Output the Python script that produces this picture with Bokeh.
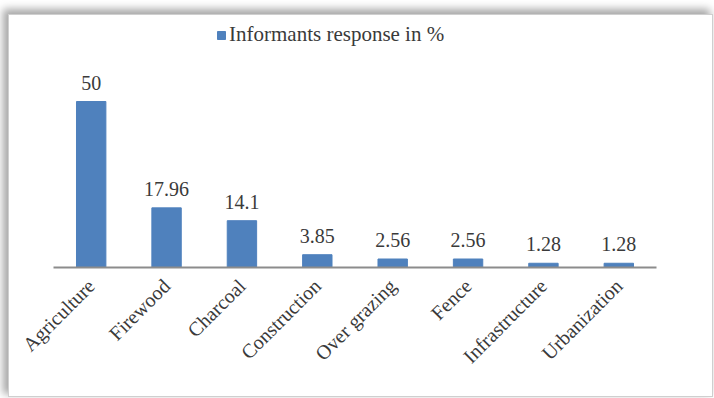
import math
from bokeh.plotting import figure
from bokeh.models import ColumnDataSource, Range1d, Legend, LegendItem, LabelSet
from bokeh.embed import file_html
from bokeh.resources import INLINE

categories = ["Agriculture", "Firewood", "Charcoal", "Construction",
              "Over grazing", "Fence", "Infrastructure", "Urbanization"]
values = [50, 17.96, 14.1, 3.85, 2.56, 2.56, 1.28, 1.28]
value_labels = ["50", "17.96", "14.1", "3.85", "2.56", "2.56", "1.28", "1.28"]
series_name = "Informants response in %"

FONT = "Liberation Serif"

src = ColumnDataSource(dict(cat=categories, val=values, lab=value_labels))

p = figure(x_range=categories, y_range=Range1d(0, 74.7),
           width=705, height=383, output_backend="svg", toolbar_location=None,
           min_border_left=44, min_border_right=58, min_border_top=4,
           min_border_bottom=131)
p.styles = {"margin-left": "8px", "margin-top": "14px",
            "border": "1px solid #cfcfcf",
            "box-shadow": "-4px -4px 8px 1px rgba(0,0,0,0.35)"}
p.x_range.range_padding = 0
p.outline_line_color = None
p.grid.visible = False
p.yaxis.visible = False

r = p.vbar(x="cat", top="val", width=0.39, source=src, color="#4F81BD")

labels = LabelSet(x="cat", y="val", text="lab", source=src, y_offset=12,
                  text_align="center", text_baseline="bottom",
                  text_font=FONT, text_font_size="20px",
                  text_color="#3a3a3a")
p.add_layout(labels)

ax = p.xaxis[0]
ax.axis_line_color = "#8c8c8c"
ax.axis_line_width = 2
ax.major_tick_line_color = None
ax.minor_tick_line_color = None
ax.major_label_orientation = math.pi / 4
ax.major_label_text_font = FONT
ax.major_label_text_font_size = "20px"
ax.major_label_text_color = "#3a3a3a"
ax.major_label_standoff = 9

legend = Legend(items=[LegendItem(label=series_name, renderers=[r])],
                location=(163, 220), orientation="horizontal",
                label_text_font=FONT, label_text_font_size="21px",
                label_text_color="#3a3a3a", glyph_width=10, glyph_height=10,
                label_standoff=3, padding=0, margin=0, border_line_color=None,
                background_fill_alpha=0)
p.add_layout(legend)

open("out.html", "w").write(file_html(p, INLINE))
